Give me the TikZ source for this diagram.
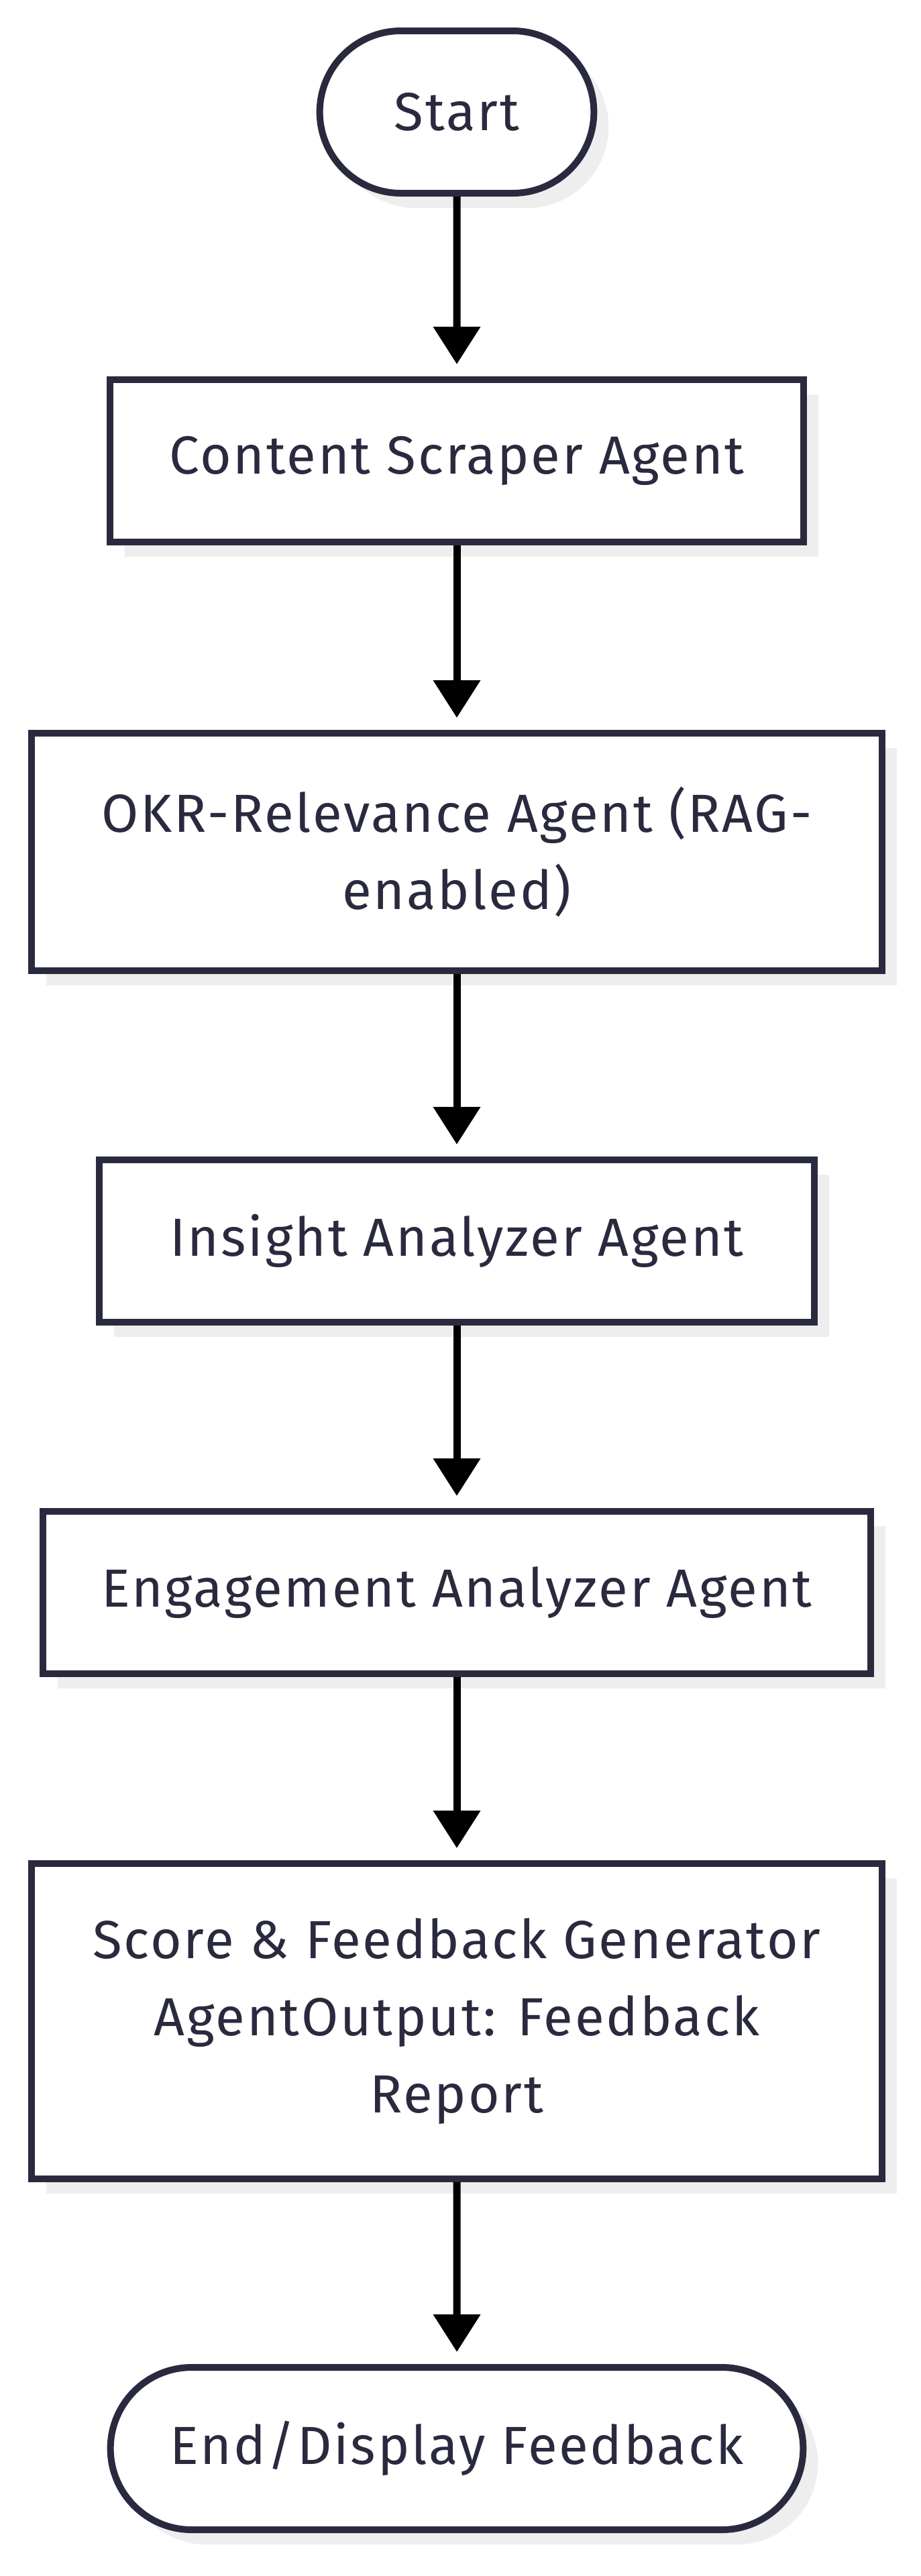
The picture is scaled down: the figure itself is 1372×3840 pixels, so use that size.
\documentclass[tikz,border=0pt]{standalone}
\usepackage{fontspec}
\setmainfont{Fira Sans}[LetterSpace=3.5]
\usetikzlibrary{arrows.meta,shapes.misc,shadows}
\definecolor{inkline}{HTML}{2A2A3F}
\definecolor{shade}{HTML}{EEEEEE}
\begin{document}
\begin{tikzpicture}[x=0.5pt,y=-0.5pt,
terminal/.style={rounded rectangle,draw=inkline,line width=5pt,fill=white,text=inkline,minimum height=121pt,font=\fontsize{40}{57.5}\selectfont,drop shadow={shadow xshift=11pt,shadow yshift=-11pt,fill=shade,opacity=1}},
agent/.style={rectangle,draw=inkline,line width=5pt,fill=white,text=inkline,align=center,minimum height=121pt,font=\fontsize{40}{57.5}\selectfont,drop shadow={shadow xshift=11pt,shadow yshift=-11pt,fill=shade,opacity=1}},
flow/.style={-{Triangle[width=34pt,length=28pt]},line width=5.5pt,shorten >=9pt},
]
%canvas
\fill[white](0,0)rectangle(1372,3840);
\useasboundingbox(0,0)rectangle(1372,3840);
%start
\node[terminal,minimum width=211pt](start)at(681,167){Start};
%agents
\node[agent,minimum width=517pt](scraper)at(681,687){Content Scraper Agent};
\node[agent,minimum width=634pt,minimum height=177pt](okr)at(681,1270){OKR-Relevance Agent (RAG-\\enabled)};
\node[agent,minimum width=533pt](insight)at(681,1850){Insight Analyzer Agent};
\node[agent,minimum width=617pt](engage)at(681,2374){Engagement Analyzer Agent};
\node[agent,minimum width=634pt,minimum height=235pt](score)at(681,3013){Score \& Feedback Generator\\AgentOutput: Feedback\\Report};
%end
\node[terminal,minimum width=523pt](finish)at(681,3650){End/Display Feedback};
%flow
\draw[flow](start)--(scraper);
\draw[flow](scraper)--(okr);
\draw[flow](okr)--(insight);
\draw[flow](insight)--(engage);
\draw[flow](engage)--(score);
\draw[flow](score)--(finish);
\end{tikzpicture}
\end{document}
